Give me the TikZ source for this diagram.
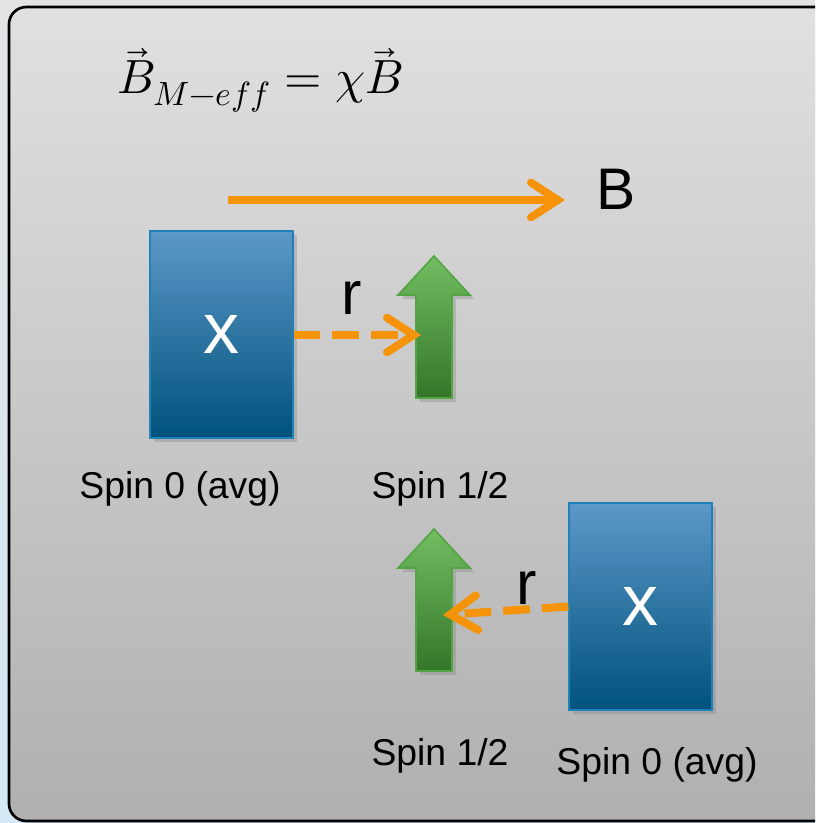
\documentclass[tikz,border=0pt]{standalone}
\usepackage{fontspec}
\usepackage{unicode-math}
\setmainfont{Liberation Sans}
\setmathfont{Latin Modern Math}
\usetikzlibrary{arrows.meta,shadows}

\definecolor{fieldorange}{RGB}{245,148,10}
\definecolor{boxtop}{RGB}{92,152,200}
\definecolor{boxmid}{RGB}{0,110,165}
\definecolor{boxbot}{RGB}{0,82,124}
\definecolor{boxedge}{RGB}{30,130,185}
\definecolor{spintop}{RGB}{114,190,98}
\definecolor{spinbot}{RGB}{52,118,40}
\definecolor{spinedge}{RGB}{82,165,66}

\tikzset{
  spinbox/.style={draw=boxedge, line width=1.2pt, top color=boxtop, middle color=boxmid, bottom color=boxbot,
    minimum width=107pt, minimum height=155pt, inner sep=0pt, text=white,
    font=\fontsize{54}{54}\selectfont, drop shadow={shadow xshift=3pt, shadow yshift=-3pt, opacity=0.35}},
  spinarrow/.style={draw=spinedge, line width=1.2pt, top color=spintop, bottom color=spinbot,
    drop shadow={shadow xshift=3pt, shadow yshift=-3pt, opacity=0.35}},
  bfield/.style={draw=fieldorange, line width=6pt, -{Straight Barb[length=20pt, width=26pt, line cap=round]}},
  rlink/.style={draw=fieldorange, line width=6pt, dash pattern=on 20pt off 9pt,
    -{Straight Barb[length=20pt, width=26pt, line cap=round]}},
  lbl/.style={font=\fontsize{28}{32}\selectfont},
  rlbl/.style={font=\fontsize{46}{46}\selectfont},
}

% green spin arrow, #1 = bottom centre
\newcommand{\spinup}[1]{%
  \path[spinarrow] (#1) ++(-18,0) -- ++(0,-103) -- ++(-18,0) -- ++(36,-39) -- ++(36,39)
    -- ++(-18,0) -- ++(0,103) -- cycle;}

\begin{document}
\begin{tikzpicture}[x=0.75pt, y=-0.75pt]
  \useasboundingbox (0,0) rectangle (815,823);
  \clip (0,0) rectangle (815,823);

  % Background and frame
  \shade[top color=black!11, bottom color={rgb,255:red,212;green,232;blue,246}] (0,0) rectangle (815,823);
  \draw[line width=2pt, rounded corners=13pt, top color=black!12, bottom color=black!31] (9,7) rectangle (850,821);

  % Formula
  \node[font=\fontsize{36}{44}\selectfont] (beff) at (260,80) {$\vec{B}_{M-eff} = \chi\vec{B}$};

  % Field
  \coordinate (bstart) at (228,200);
  \coordinate (bend) at (565,200);
  \draw[bfield] (bstart) -- (bend);
  \node[font=\fontsize{44}{44}\selectfont] (blbl) at (616,189) {B};

  % Upper pair
  \node[spinbox] (m1) at (221.5,334.5) {x};
  \spinup{434,398}
  \coordinate (t1) at (421,335);
  \draw[rlink] (m1.east |- t1) -- (t1);
  \node[rlbl] (r1) at (352,298) {r};
  \node[lbl] (s1) at (180,489) {Spin 0 (avg)};
  \node[lbl] (h1) at (440,489) {Spin 1/2};

  % Lower pair
  \node[spinbox] (m2) at (640.5,606.5) {x};
  \spinup{434,671}
  \coordinate (t2) at (443,615);
  \draw[rlink] (m2.west) -- (t2);
  \node[rlbl] (r2) at (527,588) {r};
  \node[lbl] (h2) at (440,756) {Spin 1/2};
  \node[lbl] (s2) at (657,765) {Spin 0 (avg)};
\end{tikzpicture}
\end{document}
